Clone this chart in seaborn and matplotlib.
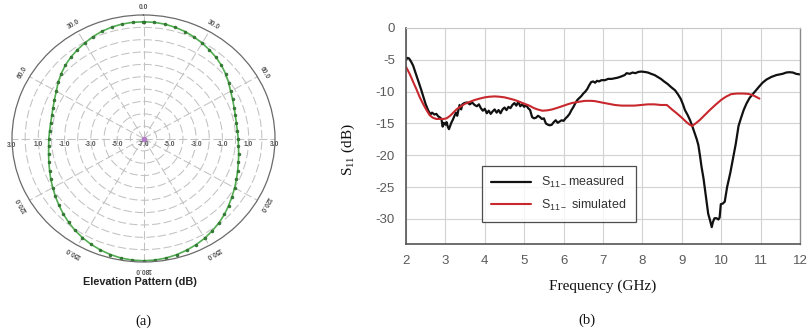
import numpy as np
import pandas as pd
import matplotlib
matplotlib.use("Agg")
import matplotlib.pyplot as plt
import matplotlib.transforms as mtransforms
import seaborn as sns

# ---------------- data ----------------
# (a) elevation pattern, dB, every 5 degrees clockwise from top
pattern_theta_deg = list(range(0, 360, 5))
pattern_db = [2.45, 2.44, 2.40, 2.32, 2.22, 2.08, 1.92, 1.75, 1.58, 1.38, 1.15, 0.90, 0.65, 0.48, 0.33, 0.23, 0.17, 0.16, 0.20,
              0.25, 0.35, 0.47, 0.62, 0.80, 1.00, 1.22, 1.45, 1.70, 1.92, 2.12, 2.32, 2.48, 2.62, 2.74, 2.83, 2.88, 2.90,
              2.88, 2.83, 2.73, 2.60, 2.45, 2.28, 2.08, 1.86, 1.63, 1.40, 1.18, 0.97, 0.78, 0.60, 0.45, 0.33, 0.24, 0.20,
              0.17, 0.17, 0.22, 0.32, 0.47, 0.66, 0.92, 1.17, 1.40, 1.60, 1.77, 1.93, 2.10, 2.24, 2.34, 2.41, 2.44]
radial_ticks = [-7, -5, -3, -1, 1, 3]
angle_labels = [0, 30, 60, 120, 150, 180]

# (b) S11
freq_meas = [2.00, 2.04, 2.08, 2.13, 2.18, 2.24, 2.31, 2.38, 2.44, 2.50, 2.56, 2.62, 2.66, 2.72, 2.77, 2.82, 2.87, 2.90,
             2.93, 2.96, 3.00, 3.03, 3.06, 3.09, 3.12, 3.15, 3.19, 3.23, 3.27, 3.30, 3.33, 3.36, 3.40, 3.43, 3.48, 3.55,
             3.62, 3.68, 3.74, 3.80, 3.85, 3.90, 3.95, 4.00, 4.05, 4.10, 4.15, 4.20, 4.25, 4.30, 4.35, 4.40, 4.45, 4.50,
             4.55, 4.60, 4.65, 4.70, 4.75, 4.80, 4.85, 4.90, 4.95, 5.00, 5.05, 5.10, 5.15, 5.20, 5.25, 5.30, 5.35, 5.40,
             5.45, 5.50, 5.55, 5.60, 5.65, 5.70, 5.75, 5.80, 5.85, 5.90, 5.95, 6.00, 6.05, 6.10, 6.15, 6.20, 6.25, 6.30,
             6.35, 6.40, 6.45, 6.50, 6.55, 6.60, 6.65, 6.70, 6.75, 6.80, 6.85, 6.90, 6.96, 7.05, 7.13, 7.22, 7.30, 7.38,
             7.47, 7.55, 7.60, 7.68, 7.75, 7.82, 7.90, 7.97, 8.05, 8.14, 8.22, 8.31, 8.39, 8.47, 8.55, 8.64, 8.73, 8.83,
             8.90, 8.97, 9.03, 9.08, 9.15, 9.21, 9.27, 9.33, 9.38, 9.42, 9.46, 9.50, 9.55, 9.59, 9.63, 9.67, 9.72, 9.76,
             9.79, 9.83, 9.88, 9.93, 9.96, 9.99, 10.04, 10.09, 10.15, 10.23, 10.30, 10.37, 10.44, 10.50, 10.57, 10.64,
             10.72, 10.80, 10.88, 10.95, 11.05, 11.15, 11.27, 11.40, 11.56, 11.65, 11.73, 11.82, 11.90, 12.00]
s11_meas = [-5.0, -4.7, -4.8, -5.3, -5.9, -7.0, -8.3, -9.6, -10.8, -12.0, -12.9, -13.6, -13.3, -13.6, -13.5, -13.9, -14.1, -14.3,
            -15.5, -14.9, -15.2, -14.8, -15.5, -15.9, -15.4, -14.9, -14.4, -13.8, -13.3, -13.8, -12.9, -12.1, -12.8, -12.0, -11.8, -11.7,
            -12.0, -11.7, -12.1, -12.3, -12.0, -12.6, -13.0, -12.7, -13.4, -13.0, -13.5, -13.1, -12.8, -13.3, -12.9, -13.4, -12.8, -12.5,
            -12.9, -12.4, -12.6, -12.1, -11.8, -12.2, -11.6, -12.3, -12.0, -12.4, -12.1, -12.6, -12.9, -14.0, -14.2, -14.1, -13.8, -14.0,
            -14.3, -14.2, -15.0, -15.2, -15.3, -15.2, -14.8, -14.5, -14.9, -14.7, -14.5, -14.6, -14.2, -13.9, -13.5, -12.9, -12.4, -11.8,
            -11.3, -11.0, -10.7, -10.3, -10.0, -9.6, -9.0, -8.5, -8.4, -8.6, -8.3, -8.4, -8.2, -8.2, -8.0, -8.0, -7.9, -7.8,
            -7.6, -7.4, -7.1, -7.2, -7.0, -7.1, -6.9, -6.85, -6.9, -7.0, -7.2, -7.4, -7.7, -8.0, -8.4, -8.8, -9.3, -9.8,
            -10.4, -11.1, -12.0, -12.9, -13.7, -14.5, -15.5, -16.6, -17.5, -18.4, -20.0, -21.8, -23.6, -25.5, -27.4, -29.2, -30.3, -31.3,
            -30.5, -29.9, -29.9, -30.1, -29.8, -27.7, -27.6, -27.3, -25.0, -22.8, -20.5, -18.2, -15.4, -14.2, -12.9, -11.9,
            -11.0, -10.4, -9.8, -9.3, -8.6, -8.1, -7.7, -7.4, -7.2, -7.0, -6.95, -7.0, -7.2, -7.3]
freq_sim = [2.0, 2.1, 2.18, 2.27, 2.35, 2.44, 2.52, 2.6, 2.68, 2.77, 2.86, 2.95, 3.03, 3.12, 3.2, 3.28, 3.37, 3.5, 3.62, 3.75,
            3.87, 4.0, 4.12, 4.25, 4.37, 4.5, 4.63, 4.75, 4.88, 5.0, 5.13, 5.25, 5.34, 5.46, 5.58, 5.71, 5.84, 5.96, 6.1, 6.21,
            6.38, 6.55, 6.7, 6.8, 6.96, 7.13, 7.3, 7.47, 7.65, 7.8, 7.97, 8.14, 8.3, 8.47, 8.62, 8.75, 8.87, 9.0, 9.12, 9.2,
            9.26, 9.35, 9.45, 9.58, 9.71, 9.85, 10.0, 10.12, 10.25, 10.4, 10.55, 10.68, 10.78, 10.88, 10.97]
s11_sim = [-6.1, -7.3, -8.45, -9.7, -10.9, -12.0, -12.9, -13.7, -14.1, -14.3, -14.3, -14.3, -14.2, -13.8, -13.3, -12.8, -12.4, -11.9, -11.6, -11.3,
           -11.1, -10.9, -10.8, -10.75, -10.8, -10.9, -11.1, -11.3, -11.6, -11.9, -12.2, -12.6, -12.8, -13.0, -12.95, -12.8, -12.55, -12.3, -12.0, -11.8,
           -11.6, -11.45, -11.45, -11.5, -11.7, -11.9, -12.1, -12.2, -12.2, -12.2, -12.1, -12.0, -12.0, -12.1, -12.1, -12.8, -13.4, -14.1, -14.8, -15.2,
           -15.4, -15.0, -14.5, -13.7, -12.9, -12.1, -11.3, -10.8, -10.4, -10.3, -10.3, -10.35, -10.5, -10.8, -11.1]
x_ticks = list(range(2, 13))
y_ticks = [0, -5, -10, -15, -20, -25, -30]
legend_labels = [r"S$_{\mathregular{11-}}$measured", r"S$_{\mathregular{11-}}$ simulated"]

# ---------------- style ----------------
sns.set_theme(style="white")
plt.rcParams["font.family"] = ["Liberation Sans", "DejaVu Sans"]
plt.rcParams["axes.unicode_minus"] = False
SERIF = ["Liberation Serif", "DejaVu Serif"]

fig = plt.figure(figsize=(8.1, 3.34), dpi=100)

# ---------------- (a) polar ----------------
ax1 = fig.add_axes([12 / 810, 72 / 334, 263 / 810, 247 / 334], projection="polar")
ax1.set_aspect("auto")
ax1.set_theta_zero_location("N")
ax1.set_theta_direction(-1)
ax1.set_rlim(-7, 3)
ax1.set_rgrids(np.arange(-6, 3, 1), labels=[""] * 9)
ax1.set_thetagrids(np.arange(0, 360, 30), labels=[""] * 12)
ax1.grid(True, color="#c2c2c2", linestyle=(0, (8, 3)), linewidth=0.75)
ax1.spines["polar"].set_color("#6a6a6a")
ax1.spines["polar"].set_linewidth(0.9)
ax1.set_facecolor("white")

th = np.deg2rad(pattern_theta_deg + [360])
rr = pattern_db + [pattern_db[0]]
dfp = pd.DataFrame({"theta": th, "r": rr})
sns.lineplot(data=dfp, x="theta", y="r", ax=ax1, sort=False, color="#52ad52", linewidth=1.2,
             marker="o", markersize=2.1, markerfacecolor="#357f35", markeredgecolor="#2a682a",
             markeredgewidth=0.4)
ax1.plot([0], [-7], "o", color="#b47cc8", markersize=3, zorder=5)
ax1.set_xlabel("")
ax1.set_ylabel("")

lab_tr = mtransforms.offset_copy(ax1.transData, fig=fig, y=-6.5, units="dots")
for rv in radial_ticks:
    sides = [np.deg2rad(90), np.deg2rad(270)] if rv != -7 else [0.0]
    for tt in sides:
        ax1.text(tt, rv, f"{rv:.1f}", transform=lab_tr, ha="center", va="center",
                 fontsize=4.8, fontweight="bold", color="#555555", clip_on=False)
for a in angle_labels:
    thetas = [(a, -a)] if a in (0, 180) else [(a, -a), (360 - a, a)]
    for tdeg, rot in thetas:
        ax1.text(np.deg2rad(tdeg), 3.62, f"{a:.1f}", ha="center", va="center", rotation=rot,
                 rotation_mode="anchor", fontsize=4.8, fontweight="bold", color="#555555", clip_on=False)

fig.text(140 / 810, 1 - 282 / 334, "Elevation Pattern (dB)", ha="center", va="center",
         fontsize=7.8, fontweight="bold", color="#222222")
fig.text(143 / 810, 1 - 321.5 / 334, "(a)", ha="center", va="center", fontsize=10.5,
         family=SERIF, color="#111111")

# ---------------- (b) S11 ----------------
ax2 = fig.add_axes([406 / 810, (334 - 244.3) / 334, 394 / 810, 216.3 / 334])
dfm = pd.DataFrame({"f": freq_meas, "s": s11_meas})
dfs = pd.DataFrame({"f": freq_sim, "s": s11_sim})
sns.lineplot(data=dfm, x="f", y="s", ax=ax2, sort=False, color="#111111", linewidth=1.6, label=legend_labels[0])
sns.lineplot(data=dfs, x="f", y="s", ax=ax2, sort=False, color="#c8282d", linewidth=1.5, label=legend_labels[1])
ax2.set_xlim(2, 12)
ax2.set_ylim(-34, 0)
ax2.set_xticks(x_ticks)
ax2.set_yticks(y_ticks)
ax2.grid(True, color="#d2d2d2", linewidth=0.8)
ax2.set_axisbelow(True)
ax2.tick_params(axis="both", direction="out", length=4, width=0.8, color="#555555",
                labelcolor="#5a5a5a", labelsize=9.5, pad=4)
for s in ["left", "bottom"]:
    ax2.spines[s].set_color("#555555")
    ax2.spines[s].set_linewidth(1.2)
ax2.spines["right"].set_color("#8a8a8a")
ax2.spines["right"].set_linewidth(1.0)
ax2.spines["top"].set_color("#c8c8c8")
ax2.spines["top"].set_linewidth(0.8)

ax2.set_xlabel("Frequency (GHz)", family=SERIF, fontsize=11, color="#111111")
ax2.xaxis.label.set_va("center")
ax2.xaxis.set_label_coords(0.5, -(286 - 244.3) / 216.3)
ax2.set_ylabel(r"S$_{\mathregular{11}}$ (dB)", family=SERIF, fontsize=11, color="#111111")
ax2.yaxis.label.set_va("center")
ax2.yaxis.set_label_coords((348 - 406) / 394, (244.3 - 150) / 216.3)

leg = ax2.legend(loc="lower left", bbox_to_anchor=(0.193, 0.103), borderaxespad=0, frameon=True,
                 fancybox=False, fontsize=9, handlelength=3.2, handletextpad=0.8,
                 borderpad=0.75, labelspacing=0.6)
leg.get_frame().set_edgecolor("#222222")
leg.get_frame().set_linewidth(0.9)
for t in leg.get_texts():
    t.set_color("#333333")

fig.text(587 / 810, 1 - 320 / 334, "(b)", ha="center", va="center", fontsize=10.5,
         family=SERIF, color="#111111")

fig.savefig("out.png", dpi=100, facecolor="white")
